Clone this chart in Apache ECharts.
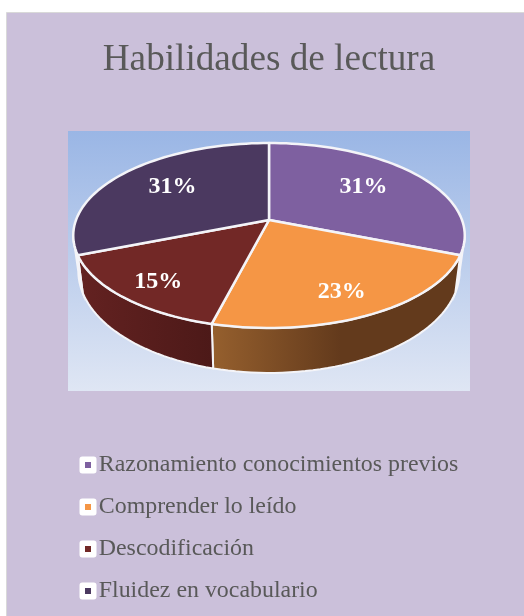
<!DOCTYPE html>
<html>
<head>
<meta charset="utf-8">
<style>html,body{margin:0;padding:0;background:#fff}#chart{width:524px;height:616px}</style>
<script src="https://cdn.jsdelivr.net/npm/echarts@6/dist/echarts.min.js"></script>
</head>
<body>
<div id="chart"></div>
<script>
// datos de la grafica
const titulo = 'Habilidades de lectura';
const categorias = ['Razonamiento conocimientos previos', 'Comprender lo leído', 'Descodificación', 'Fluidez en vocabulario'];
const valores = [31, 23, 15, 31];
const coloresTapa = ['#7e60a0', '#f59645', '#722826', '#4b3960'];

const total = valores.reduce((a, b) => a + b, 0);
const FUENTE = '"Liberation Serif", serif';

// pie en perspectiva: tapa y base son dos circulos proyectados
const tapa = { cx: 269, cy: 220, a: 193, b: 89.9, k: 0.1675 };
const base = { cx: 269, cy: 254, a: 188, b: 99, k: 0.1675 };
const PARED = [100, 260]; // parte visible del lateral, en grados
const ajusteEtiqueta = [[1, -4], [13, 17], [-25, 16], [-3, -4]];

const paredes = [
  [[0, '#4a3a60'], [1, '#4a3a60']],
  [[0, '#96602e'], [0.52, '#633a1c'], [1, '#633a1c']],
  [[0, '#642221'], [1, '#4c1918']],
  [[0, '#33263f'], [1, '#33263f']]
];

function proyectar(p, grados, r) {
  const t = grados * Math.PI / 180;
  const u = Math.sin(t) * r, v = -Math.cos(t) * r;
  const s = 1 / (1 - p.k * v);
  return [p.cx + p.a * u * s, p.cy + p.b * v * s];
}

function arco(p, desde, hasta) {
  const puntos = [];
  const n = Math.max(2, Math.ceil((hasta - desde) / 2));
  for (let i = 0; i <= n; i++) {
    puntos.push(proyectar(p, desde + (hasta - desde) * i / n, 1));
  }
  return puntos;
}

function aGrados(v) {
  return echarts.number.linearMap(v, [0, total], [0, 360]);
}

function dibujarPorcion(idx) {
  const acum = valores.slice(0, idx).reduce((a, b) => a + b, 0);
  const ini = aGrados(acum), fin = aGrados(acum + valores[idx]);
  const hijos = [];

  // lateral
  const d = Math.max(ini, PARED[0]), h = Math.min(fin, PARED[1]);
  if (h > d) {
    hijos.push({
      type: 'polygon',
      z2: 1,
      shape: { points: arco(tapa, d, h).concat(arco(base, d, h).reverse()) },
      style: {
        fill: new echarts.graphic.LinearGradient(0, 0, 1, 0,
          paredes[idx].map(c => ({ offset: c[0], color: c[1] }))),
        stroke: '#f4f4f8',
        lineWidth: 2
      }
    });
  }
  // tapa
  hijos.push({
    type: 'polygon',
    z2: 2,
    shape: { points: [proyectar(tapa, 0, 0)].concat(arco(tapa, ini, fin)) },
    style: { fill: coloresTapa[idx], stroke: '#f4f4f8', lineWidth: 2.5, lineJoin: 'round' }
  });
  // etiqueta
  const c = proyectar(tapa, (ini + fin) / 2, 0.62);
  hijos.push({
    type: 'text',
    z2: 3,
    style: {
      x: c[0] + ajusteEtiqueta[idx][0],
      y: c[1] + ajusteEtiqueta[idx][1],
      text: Math.round(valores[idx] / total * 100) + '%',
      fill: '#ffffff',
      font: 'bold 24px ' + FUENTE,
      align: 'center',
      verticalAlign: 'middle'
    }
  });
  return { type: 'group', children: hijos };
}

const chart = echarts.init(document.getElementById('chart'), null, { renderer: 'canvas' });
chart.setOption({
  animation: false,
  title: {
    text: titulo,
    left: 269,
    top: 42,
    padding: 0,
    textAlign: 'center',
    textStyle: { fontFamily: FUENTE, fontSize: 37.2, fontWeight: 'normal', color: '#595959' }
  },
  legend: {
    orient: 'vertical',
    left: 79.5,
    top: 453,
    padding: 0,
    itemGap: 18,
    itemWidth: 11.5,
    itemHeight: 11.5,
    icon: 'rect',
    selectedMode: false,
    itemStyle: { borderColor: '#ffffff', borderWidth: 5.5, borderJoin: 'round' },
    textStyle: { fontFamily: FUENTE, fontSize: 23.9, color: '#595959' },
    data: categorias
  },
  graphic: [
    {
      type: 'rect',
      z: -2,
      shape: { x: 6.5, y: 12.5, width: 530, height: 620 },
      style: { fill: '#cbc0da', stroke: '#d9d9d9', lineWidth: 1 }
    },
    {
      type: 'rect',
      z: -1,
      shape: { x: 68, y: 131, width: 402, height: 260 },
      style: {
        fill: new echarts.graphic.LinearGradient(0, 0, 0, 1, [
          { offset: 0, color: '#9ab6e5' },
          { offset: 1, color: '#dfe6f4' }
        ])
      }
    }
  ],
  series: categorias.map((nombre, i) => ({
    type: 'custom',
    name: nombre,
    coordinateSystem: 'none',
    itemStyle: { color: coloresTapa[i] },
    data: [[valores[i]]],
    renderItem: () => dibujarPorcion(i)
  }))
});
</script>
</body>
</html>
